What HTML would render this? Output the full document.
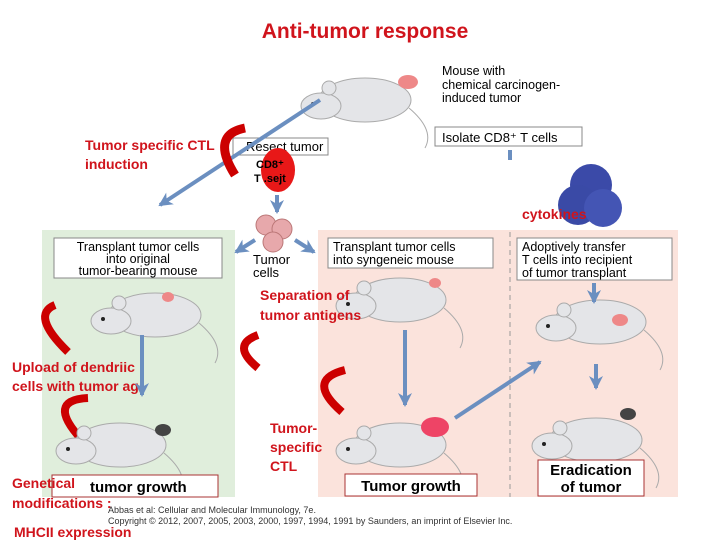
<!DOCTYPE html>
<html><head><style>body{margin:0;background:#fff}svg{display:block}
.c{font-family:"Liberation Sans",sans-serif}
.r{font-family:"Liberation Sans",sans-serif;fill:#d0141c;font-size:14px;font-weight:bold}
</style></head><body>
<svg width="720" height="540" viewBox="0 0 720 540" xmlns="http://www.w3.org/2000/svg">
<defs>
<marker id="a" markerWidth="16" markerHeight="16" refX="12" refY="8" orient="auto" markerUnits="userSpaceOnUse"><path d="M0,1 L14,8 L0,15 L4,8Z" fill="#6b8fc0"/></marker>
<g id="m"><ellipse cx="0" cy="0" rx="46" ry="22" fill="#e4e5e8" stroke="#aaa"/><ellipse cx="-44" cy="6" rx="20" ry="13" fill="#e4e5e8" stroke="#aaa"/><circle cx="-36" cy="-12" r="7" fill="#e4e5e8" stroke="#aaa"/><circle cx="-52" cy="4" r="2" fill="#222"/><path d="M44,8 Q70,30 60,48" fill="none" stroke="#aaa"/></g>
</defs>
<text x="365" y="38" class="c" font-size="21" font-weight="bold" fill="#d0141c" text-anchor="middle">Anti-tumor response</text>
<rect x="42" y="230" width="193" height="267" fill="#e0eedc"/>
<rect x="318" y="230" width="360" height="267" fill="#fbe3dc"/>
<line x1="510" y1="232" x2="510" y2="497" stroke="#999" stroke-dasharray="5,4"/>
<use href="#m" x="365" y="100"/><ellipse cx="408" cy="82" rx="10" ry="7" fill="#e88"/>
<text x="442" y="75" class="c" font-size="12.5">Mouse with</text>
<text x="442" y="89" class="c" font-size="12.5">chemical carcinogen-</text>
<text x="442" y="102" class="c" font-size="12.5">induced tumor</text>
<rect x="233" y="138" width="95" height="17" fill="#fff" stroke="#888"/><text x="246" y="151" class="c" font-size="13">Resect tumor</text>
<rect x="435" y="127" width="147" height="19" fill="#fff" stroke="#888"/><text x="442" y="142" class="c" font-size="13">Isolate CD8⁺ T cells</text>
<line x1="320" y1="100" x2="160" y2="205" stroke="#6b8fc0" stroke-width="4" marker-end="url(#a)"/>
<line x1="510" y1="150" x2="510" y2="160" stroke="#6b8fc0" stroke-width="4"/>
<circle cx="591" cy="185" r="21" fill="#3b4aa8"/><circle cx="578" cy="205" r="20" fill="#3a4aa6"/><circle cx="603" cy="208" r="19" fill="#4455b4"/>
<text x="522" y="219" class="r" font-size="13" font-weight="normal">cytokines</text>
<ellipse cx="278" cy="170" rx="17" ry="22" fill="#e81818"/>
<text x="256" y="168" class="c" font-size="11" font-weight="bold">CD8⁺</text><text x="254" y="182" class="c" font-size="11" font-weight="bold">T .sejt</text>
<path d="M245,128 Q210,135 235,175" fill="none" stroke="#c00" stroke-width="9"/>
<text x="85" y="150" class="r">Tumor specific CTL</text><text x="85" y="169" class="r">induction</text>
<line x1="277" y1="195" x2="277" y2="212" stroke="#6b8fc0" stroke-width="4" marker-end="url(#a)"/>
<circle cx="266" cy="225" r="10" fill="#e7a8ab" stroke="#b77"/><circle cx="282" cy="229" r="10" fill="#e7a8ab" stroke="#b77"/><circle cx="273" cy="242" r="10" fill="#e7a8ab" stroke="#b77"/>
<text x="253" y="264" class="c" font-size="13">Tumor</text><text x="253" y="277" class="c" font-size="13">cells</text>
<line x1="255" y1="240" x2="236" y2="252" stroke="#6b8fc0" stroke-width="4" marker-end="url(#a)"/>
<line x1="295" y1="240" x2="314" y2="252" stroke="#6b8fc0" stroke-width="4" marker-end="url(#a)"/>
<rect x="54" y="238" width="168" height="40" fill="#fff" stroke="#888"/>
<text x="138" y="251" class="c" font-size="12.5" text-anchor="middle">Transplant tumor cells</text><text x="138" y="263" class="c" font-size="12.5" text-anchor="middle">into original</text><text x="138" y="275" class="c" font-size="12.5" text-anchor="middle">tumor-bearing mouse</text>
<rect x="328" y="238" width="165" height="30" fill="#fff" stroke="#888"/>
<text x="333" y="251" class="c" font-size="12.5">Transplant tumor cells</text><text x="333" y="264" class="c" font-size="12.5">into syngeneic mouse</text>
<rect x="517" y="238" width="155" height="42" fill="#fff" stroke="#888"/>
<text x="522" y="251" class="c" font-size="12.5">Adoptively transfer</text><text x="522" y="264" class="c" font-size="12.5">T cells into recipient</text><text x="522" y="277" class="c" font-size="12.5">of tumor transplant</text>
<use href="#m" x="155" y="315"/><ellipse cx="168" cy="297" rx="6" ry="5" fill="#e88"/>
<use href="#m" x="400" y="300"/><ellipse cx="435" cy="283" rx="6" ry="5" fill="#e88"/>
<use href="#m" x="600" y="322"/><ellipse cx="620" cy="320" rx="8" ry="6" fill="#e88"/>
<line x1="594" y1="283" x2="594" y2="302" stroke="#6b8fc0" stroke-width="4" marker-end="url(#a)"/>
<text x="260" y="300" class="r">Separation of</text><text x="260" y="320" class="r">tumor antigens</text>
<path d="M258,335 Q230,345 258,368" fill="none" stroke="#c00" stroke-width="8"/>
<path d="M55,305 Q30,315 68,352" fill="none" stroke="#c00" stroke-width="8"/>
<text x="12" y="372" class="r">Upload of dendriic</text><text x="12" y="391" class="r">cells with tumor ag</text>
<line x1="142" y1="335" x2="142" y2="395" stroke="#6b8fc0" stroke-width="4" marker-end="url(#a)"/>
<line x1="405" y1="330" x2="405" y2="405" stroke="#6b8fc0" stroke-width="4" marker-end="url(#a)"/>
<line x1="455" y1="418" x2="540" y2="362" stroke="#6b8fc0" stroke-width="4" marker-end="url(#a)"/>
<line x1="596" y1="364" x2="596" y2="388" stroke="#6b8fc0" stroke-width="4" marker-end="url(#a)"/>
<path d="M88,398 Q45,400 82,440" fill="none" stroke="#c00" stroke-width="8"/>
<path d="M345,370 Q305,380 342,412" fill="none" stroke="#c00" stroke-width="8"/>
<text x="270" y="433" class="r">Tumor-</text><text x="270" y="452" class="r">specific</text><text x="270" y="471" class="r">CTL</text>
<use href="#m" x="120" y="445"/><ellipse cx="163" cy="430" rx="8" ry="6" fill="#444"/>
<use href="#m" x="400" y="445"/><ellipse cx="435" cy="427" rx="14" ry="10" fill="#e46"/>
<use href="#m" x="596" y="440"/><ellipse cx="628" cy="414" rx="8" ry="6" fill="#444"/>
<rect x="52" y="475" width="166" height="22" fill="#fff" stroke="#a33"/><text x="90" y="492" class="c" font-size="15" font-weight="bold">tumor growth</text>
<rect x="345" y="474" width="132" height="22" fill="#fff" stroke="#a33"/><text x="411" y="491" class="c" font-size="15" font-weight="bold" text-anchor="middle">Tumor growth</text>
<rect x="538" y="460" width="106" height="36" fill="#fff" stroke="#a33"/><text x="591" y="475" class="c" font-size="15" font-weight="bold" text-anchor="middle">Eradication</text><text x="591" y="492" class="c" font-size="15" font-weight="bold" text-anchor="middle">of tumor</text>
<text x="12" y="488" class="r">Genetical</text><text x="12" y="508" class="r">modifications :</text>
<text x="14" y="537" class="r">MHCII expression</text>
<text x="108" y="513" class="c" font-size="9" fill="#333">Abbas et al: Cellular and Molecular Immunology, 7e.</text>
<text x="108" y="524" class="c" font-size="9" fill="#333">Copyright © 2012, 2007, 2005, 2003, 2000, 1997, 1994, 1991 by Saunders, an imprint of Elsevier Inc.</text>
</svg>
</body></html>
